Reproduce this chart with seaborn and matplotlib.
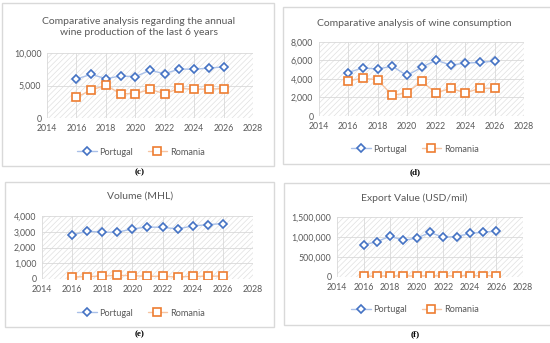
import matplotlib
matplotlib.use("Agg")
import matplotlib.pyplot as plt
import matplotlib.patches as mpatches
from matplotlib.ticker import FuncFormatter
import seaborn as sns
import pandas as pd

years = [2016, 2017, 2018, 2019, 2020, 2021, 2022, 2023, 2024, 2025, 2026]

prod_portugal = [6000, 6720, 6050, 6460, 6360, 7330, 6820, 7540, 7490, 7690, 7850]
prod_romania = [3180, 4310, 5030, 3740, 3740, 4410, 3740, 4560, 4410, 4460, 4510]

cons_portugal = [4700, 5210, 5070, 5390, 4380, 5250, 6040, 5500, 5720, 5790, 5940]
cons_romania = [3800, 4090, 3910, 2240, 2500, 3730, 2500, 3000, 2500, 3000, 3000]

vol_portugal = [2800, 3030, 2970, 2970, 3180, 3300, 3280, 3180, 3370, 3450, 3520]
vol_romania = [130, 150, 190, 230, 210, 170, 170, 130, 170, 170, 190]

exp_portugal = [801000, 885000, 1020000, 919000, 970000, 1113000, 995000, 1012000, 1088000, 1121000, 1147000]
exp_romania = [20000, 22000, 28000, 25000, 27000, 30000, 28000, 30000, 32000, 33000, 34000]

titles = ["Comparative analysis regarding the annual\nwine production of the last 6 years",
          "Comparative analysis of wine consumption",
          "Volume (MHL)",
          "Export Value (USD/mil)"]
captions = ["(c)", "(d)", "(e)", "(f)"]
y_limits = [(0, 10000, 5000), (0, 8000, 2000), (0, 4000, 1000), (0, 1500000, 500000)]

sns.set_theme(style="white")
plt.rcParams['font.family'] = ['Lato', 'DejaVu Sans']
plt.rcParams['hatch.linewidth'] = 0.5

W, H = 550, 343
fig = plt.figure(figsize=(5.5, 3.43), dpi=100)
fig.patch.set_facecolor('white')


def px_box(x0, y0, x1, y1):
    # pixel box -> figure fraction [left, bottom, width, height]
    return [x0 / W, 1 - y1 / H, (x1 - x0) / W, (y1 - y0) / H]


# outer panel frames (pixels)
frames = [(2, 3, 274, 166), (283, 7, 556, 164), (5, 182, 274, 327), (284, 183, 556, 325)]
for fx0, fy0, fx1, fy1 in frames:
    l, b, w, h = px_box(fx0, fy0, fx1, fy1)
    fig.patches.append(mpatches.Rectangle((l, b), w, h, transform=fig.transFigure,
                                          facecolor='white', edgecolor='#D9D9D9', linewidth=1.0,
                                          zorder=-5))

# plot areas (pixels)
areas = [(47, 53, 253, 118), (319, 42, 524, 116), (42, 216, 253, 279), (337, 217, 523, 277)]
title_pos = [(139, 27), (414, 23), (140, 196), (414, 198)]
legend_pos = [(141, 152), (415, 149), (141, 313), (415, 310)]
caption_pos = [(140, 172), (415, 172), (140, 334), (415, 334)]

data = [(prod_portugal, prod_romania), (cons_portugal, cons_romania),
        (vol_portugal, vol_romania), (exp_portugal, exp_romania)]

blue = '#4472C4'
orange = '#ED7D31'
blue_line = '#A9C0E8'
orange_line = '#F6C4A2'

for i, (pt, ro) in enumerate(data):
    ax = fig.add_axes(px_box(*areas[i]))
    ax.set_zorder(1)
    df = pd.DataFrame({'Year': years * 2,
                       'Value': pt + ro,
                       'Country': ['Portugal'] * len(years) + ['Romania'] * len(years)})
    sns.lineplot(data=df[df.Country == 'Portugal'], x='Year', y='Value', ax=ax,
                 color=blue_line, linewidth=1.0, marker='D', markersize=4.5,
                 markerfacecolor='white', markeredgecolor=blue, markeredgewidth=1.2,
                 label='Portugal')
    sns.lineplot(data=df[df.Country == 'Romania'], x='Year', y='Value', ax=ax,
                 color=orange_line, linewidth=1.0, marker='s', markersize=5.5,
                 markerfacecolor='white', markeredgecolor=orange, markeredgewidth=1.2,
                 label='Romania')

    ymin, ymax, ystep = y_limits[i]
    ax.set_xlim(2014, 2028)
    ax.set_ylim(ymin, ymax)
    ax.set_xticks(range(2014, 2029, 2))
    ax.set_yticks(range(ymin, ymax + 1, ystep))
    ax.yaxis.set_major_formatter(FuncFormatter(lambda v, p: f'{int(v):,}'))
    ax.set_xlabel('')
    ax.set_ylabel('')
    ax.tick_params(axis='both', labelsize=6.3, colors='#595959', length=0, pad=4)
    ax.grid(True, color='#D9D9D9', linewidth=0.6)
    ax.set_axisbelow(True)
    for s in ax.spines.values():
        s.set_visible(False)
    # hatched plot area
    ax.patch.set_alpha(0)
    ax.add_patch(mpatches.Rectangle((0, 0), 1, 1, transform=ax.transAxes, facecolor='none',
                                    edgecolor='#E0E0E0', hatch='//////', linewidth=0, zorder=0))

    leg = ax.legend(loc='center', bbox_to_anchor=(legend_pos[i][0] / W, 1 - legend_pos[i][1] / H),
                    bbox_transform=fig.transFigure, ncol=2, frameon=False, fontsize=6.6,
                    handlelength=2.1, columnspacing=1.6, handletextpad=0.3)
    for t in leg.get_texts():
        t.set_color('#595959')

    fig.text(title_pos[i][0] / W, 1 - title_pos[i][1] / H, titles[i], ha='center', va='center',
             fontsize=7.5, color='#595959', linespacing=1.3)
    fig.text(caption_pos[i][0] / W, 1 - caption_pos[i][1] / H, captions[i], ha='center', va='center',
             fontsize=6.5, fontweight='bold', family=['Liberation Serif', 'DejaVu Serif'], color='black')

fig.savefig('out.png', dpi=100, facecolor='white')
